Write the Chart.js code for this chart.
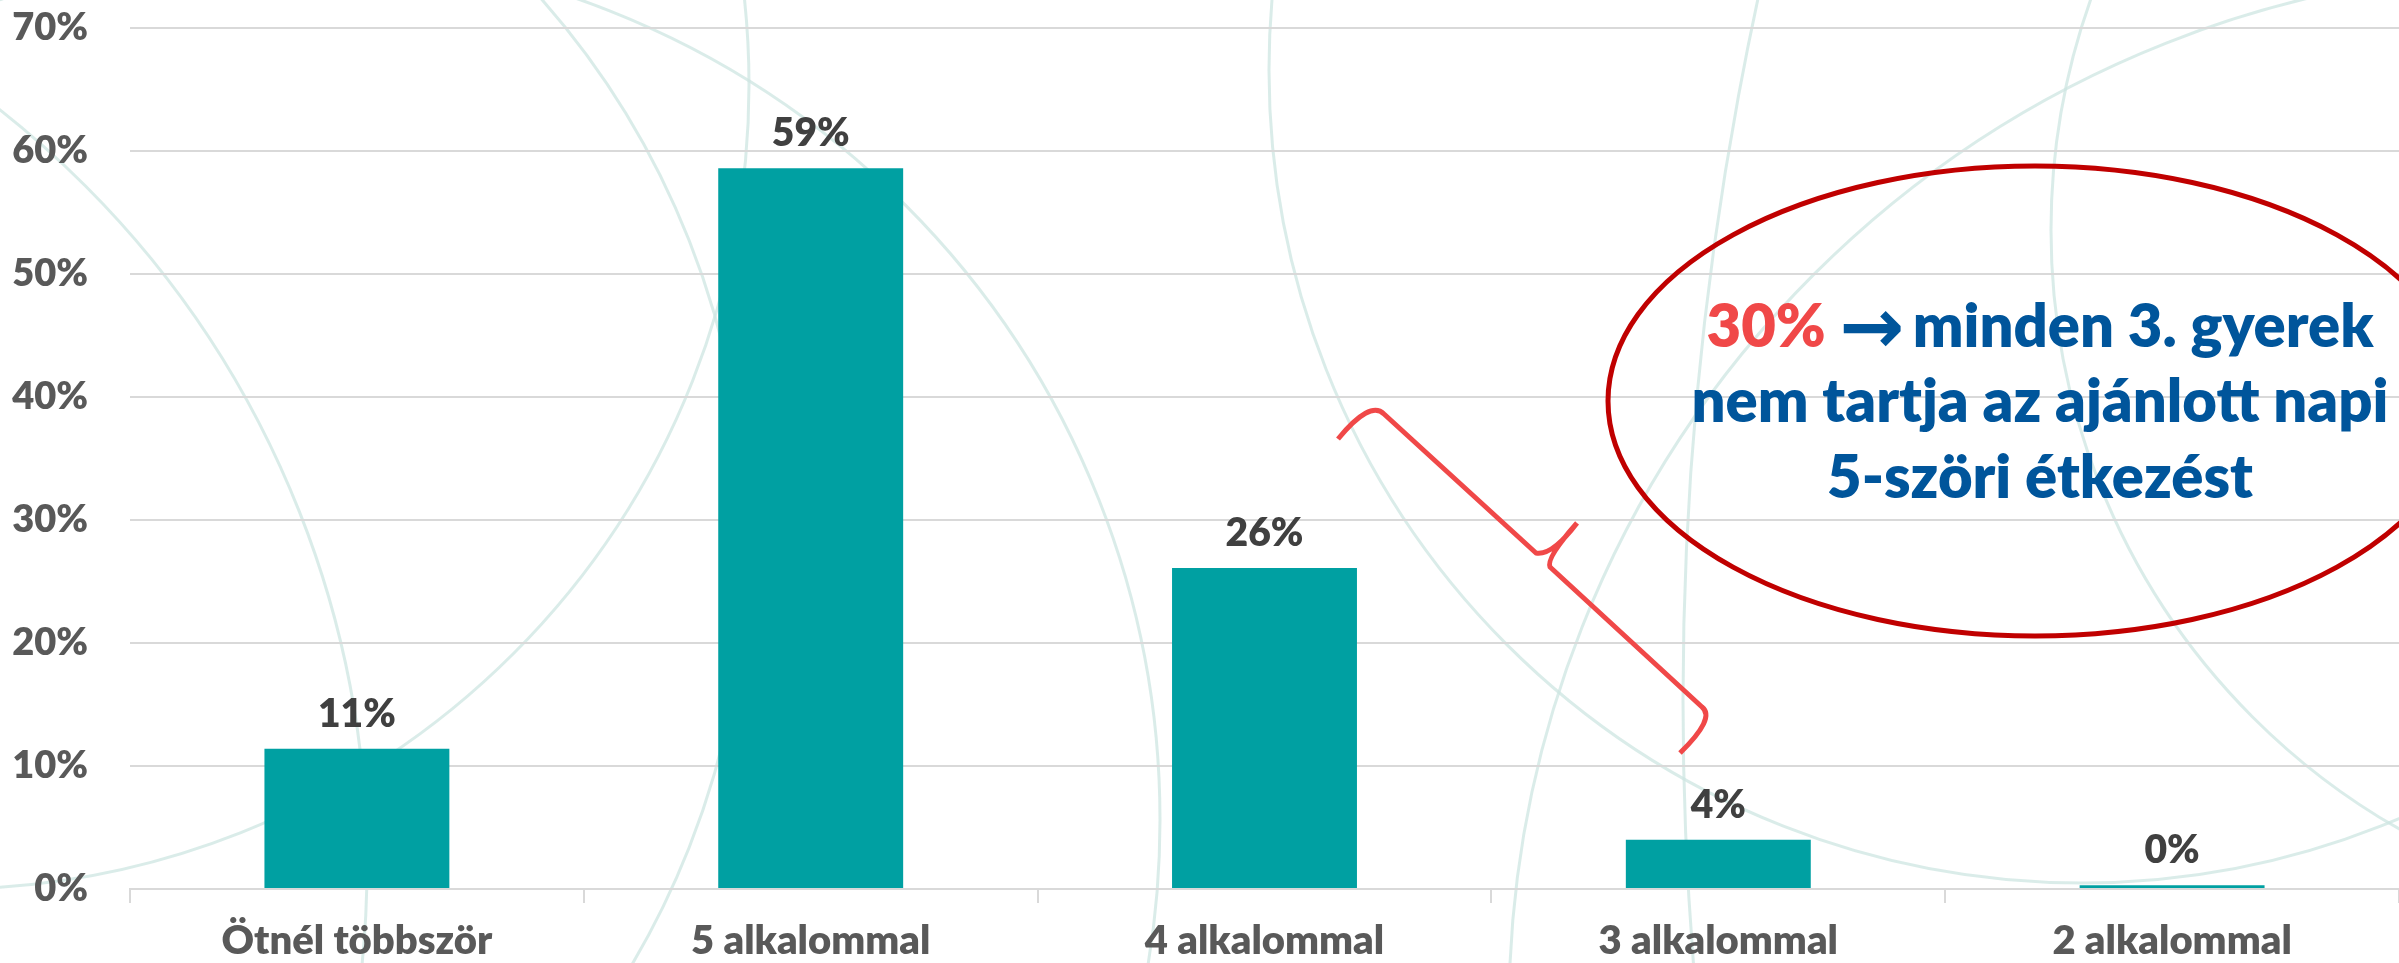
<!DOCTYPE html>
<html><head><meta charset="utf-8">
<script src="https://cdn.jsdelivr.net/npm/chart.js@4"></script>
<style>html,body{margin:0;padding:0;background:#fff;}canvas{display:block}</style>
</head><body>
<canvas id="c" width="2399" height="963"></canvas>
<script>
// ---- data ----
const categories = ['Ötnél többször', '5 alkalommal', '4 alkalommal', '3 alkalommal', '2 alkalommal'];
const values = [11.4, 58.6, 26.1, 4.0, 0.3];
const valueLabels = ['11%', '59%', '26%', '4%', '0%'];
const yTicks = [0, 10, 20, 30, 40, 50, 60, 70];
const noteHighlight = '30%';
const noteArrow = '\u2192';
const noteLine1 = 'minden 3. gyerek';
const noteLine2 = 'nem tartja az ajánlott napi';
const noteLine3 = '5-szöri étkezést';

// ---- styles ----
const FONT = 'Lato, "Open Sans", sans-serif';
const W = '800';
const BAR = '#00A0A2';
const GRID = '#D9D9D9';
const TICK = '#595959';
const LABEL = '#404040';
const RED = '#F04848';
const DARKRED = '#C00000';
const BLUE = '#00559B';

// decorative background circles [cx, cy, r]
const bgCircles = [
  [290, 820, 870], [2082, 70, 813], [-55, 85, 804], [-78, 544, 825],
  [-595, 866, 962], [2740, 230, 689], [2549, 1010, 1040], [5000, 700, 3317]
];

const bgPlugin = {
  id: 'bg',
  beforeDraw(chart) {
    const ctx = chart.ctx;
    ctx.save();
    ctx.fillStyle = '#fff';
    ctx.fillRect(0, 0, chart.width, chart.height);
    ctx.strokeStyle = 'rgba(205,230,225,0.75)';
    ctx.lineWidth = 3;
    bgCircles.forEach(([x, y, r]) => { ctx.beginPath(); ctx.arc(x, y, r, 0, Math.PI * 2); ctx.stroke(); });
    ctx.restore();
  }
};

const labelPlugin = {
  id: 'vlabels',
  afterDatasetsDraw(chart) {
    const ctx = chart.ctx;
    const meta = chart.getDatasetMeta(0);
    ctx.save();
    ctx.font = W + ' 39px ' + FONT;
    ctx.fillStyle = LABEL;
    ctx.textAlign = 'center';
    ctx.textBaseline = 'alphabetic';
    meta.data.forEach((el, i) => { ctx.fillText(valueLabels[i], el.x, el.y - 22); });
    ctx.restore();
  }
};

const notePlugin = {
  id: 'note',
  afterDraw(chart) {
    const ctx = chart.ctx;
    ctx.save();
    // ellipse
    ctx.strokeStyle = DARKRED;
    ctx.lineWidth = 5;
    ctx.beginPath();
    ctx.ellipse(2035, 401, 427, 235, 0, 0, Math.PI * 2);
    ctx.stroke();
    // text
    let size = 60;
    ctx.font = W + ' ' + size + 'px ' + FONT;
    size = size * 697 / ctx.measureText(noteLine2).width;
    const mainFont = W + ' ' + size + 'px ' + FONT;
    const arrowFont = 'bold ' + (size * 1.3) + 'px "DejaVu Sans", sans-serif';
    ctx.textBaseline = 'alphabetic';
    const cx = 2040;
    ctx.font = mainFont;
    const wA = ctx.measureText(noteHighlight).width;
    const wC = ctx.measureText(noteLine1).width;
    const gap = ctx.measureText(' ').width;
    ctx.font = arrowFont;
    const wB = ctx.measureText(noteArrow).width;
    let x = cx - (wA + gap + wB + gap * 0.6 + wC) / 2;
    ctx.textAlign = 'left';
    ctx.font = mainFont;
    ctx.fillStyle = RED;
    ctx.fillText(noteHighlight, x, 347);
    x += wA + gap;
    ctx.fillStyle = BLUE;
    ctx.font = arrowFont;
    ctx.fillText(noteArrow, x, 353);
    x += wB + gap * 0.6;
    ctx.font = mainFont;
    ctx.fillText(noteLine1, x, 347);
    ctx.textAlign = 'center';
    ctx.fillText(noteLine2, cx, 422);
    ctx.fillText(noteLine3, cx, 498);
    // brace
    ctx.strokeStyle = RED;
    ctx.lineWidth = 5;
    ctx.lineJoin = 'round';
    ctx.beginPath();
    ctx.moveTo(1338, 439);
    ctx.quadraticCurveTo(1370, 400, 1384, 414);
    ctx.lineTo(1536, 553);
    ctx.quadraticCurveTo(1552, 556, 1577, 523);
    ctx.moveTo(1577, 523);
    ctx.quadraticCurveTo(1546, 558, 1550, 567);
    ctx.lineTo(1702, 707);
    ctx.quadraticCurveTo(1716, 718, 1680, 753);
    ctx.stroke();
    ctx.restore();
  }
};

new Chart(document.getElementById('c'), {
  type: 'bar',
  data: {
    labels: categories,
    datasets: [{ data: values, backgroundColor: BAR, borderWidth: 0, barPercentage: 0.4075, categoryPercentage: 1 }]
  },
  plugins: [bgPlugin, labelPlugin, notePlugin],
  options: {
    responsive: false,
    devicePixelRatio: 1,
    animation: false,
    layout: { padding: { top: 28, right: 0, left: 0, bottom: 0 } },
    plugins: { legend: { display: false }, tooltip: { enabled: false } },
    scales: {
      x: {
        grid: { offset: true, drawOnChartArea: false, color: GRID, lineWidth: 2, tickLength: 14 },
        border: { display: true, color: GRID, width: 2 },
        ticks: { font: { family: FONT, size: 40, weight: W }, color: TICK, padding: 14, maxRotation: 0 },
        afterFit(s) { s.height = 74; s.paddingLeft = 0; s.paddingRight = 0; }
      },
      y: {
        min: 0, max: 70,
        afterBuildTicks(s) { s.ticks = yTicks.map(v => ({ value: v })); },
        grid: { color: GRID, lineWidth: 2, drawTicks: false },
        border: { display: false },
        ticks: { font: { family: FONT, size: 38, weight: W }, color: TICK, padding: 42, callback: v => v + '%' },
        afterFit(s) { s.width = 130; s.paddingTop = 0; s.paddingBottom = 0; }
      }
    }
  }
});
</script>
</body></html>
